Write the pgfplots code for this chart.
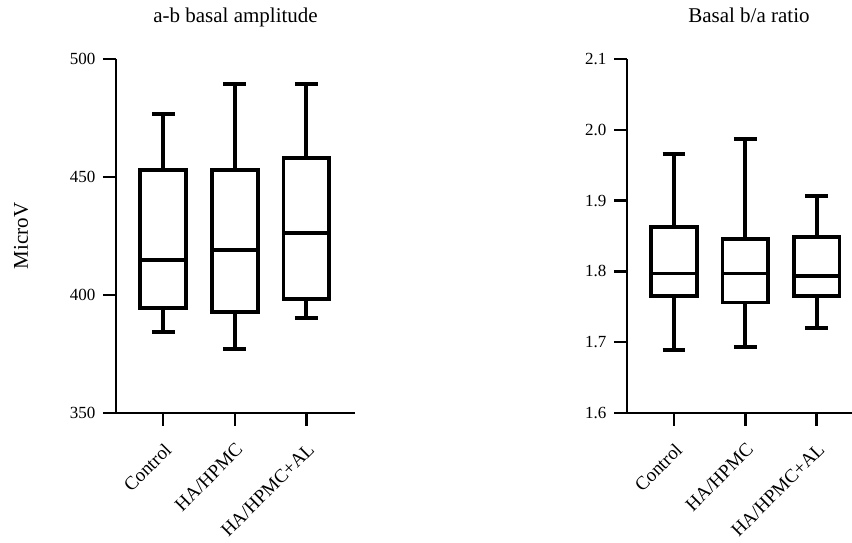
\documentclass[border=0pt]{standalone}
\usepackage{fontspec}
\setmainfont{Liberation Serif}
\usepackage{pgfplots}
\pgfplotsset{compat=1.18}
\begin{document}
\begin{tikzpicture}
\useasboundingbox (0pt,0pt) rectangle (852pt,543pt);
\pgfplotsset{
  mybox/.style={
    scale only axis,
    height=354pt,
    axis lines*=left,
    axis line style={line width=2.5pt, black},
    tick align=outside,
    major tick length=13pt,
    tick style={line width=2.5pt, black},
    xtick={0,1,2},
    xticklabels={Control,HA/HPMC,HA/HPMC+AL},
    xticklabel style={rotate=45, anchor=north east, font=\fontsize{19}{19}\selectfont, inner sep=2pt},
    xticklabel shift=13pt,
    yticklabel style={font=\fontsize{17}{17}\selectfont},
    yticklabel shift=4pt,
    /pgf/number format/assume math mode=true,
    title style={anchor=base, yshift=30pt, font=\fontsize{21}{21}\selectfont},
    clip=false,
    unbounded coords=jump,
  },
  bx/.style={draw=black, line width=3.8pt, solid, line join=miter, mark=none},
}
\begin{axis}[mybox,
  at={(116pt,130pt)}, anchor=south west,
  width=239pt,
  xmin=-0.66, xmax=2.68,
  ymin=350, ymax=500,
  ytick={350,400,450,500},
  title={a-b basal amplitude},
  title style={at={(0.5,1)}},
  ylabel={MicroV},
  ylabel style={at={(axis description cs:-0.3975,0.5)}, anchor=center, font=\fontsize{21}{21}\selectfont},
]
% Control: 384.2, 394.4, 414.8, 453.0, 476.7
\addplot[bx] coordinates {(-0.32,394.4) (0.32,394.4) (0.32,453.0) (-0.32,453.0)} -- cycle;
\addplot[bx] coordinates {(-0.32,414.8) (0.32,414.8) (0,nan)
  (0,453.0) (0,476.7) (0,nan) (-0.16,476.7) (0.16,476.7) (0,nan)
  (0,394.4) (0,384.2) (0,nan) (-0.16,384.2) (0.16,384.2)};
% HA/HPMC: 377.1, 392.9, 419.0, 453.0, 489.4
\addplot[bx] coordinates {(0.68,392.9) (1.32,392.9) (1.32,453.0) (0.68,453.0)} -- cycle;
\addplot[bx] coordinates {(0.68,419.0) (1.32,419.0) (1,nan)
  (1,453.0) (1,489.4) (1,nan) (0.84,489.4) (1.16,489.4) (1,nan)
  (1,392.9) (1,377.1) (1,nan) (0.84,377.1) (1.16,377.1)};
% HA/HPMC+AL: 390.4, 398.2, 426.4, 457.9, 489.4
\addplot[bx] coordinates {(1.68,398.2) (2.32,398.2) (2.32,457.9) (1.68,457.9)} -- cycle;
\addplot[bx] coordinates {(1.68,426.4) (2.32,426.4) (2,nan)
  (2,457.9) (2,489.4) (2,nan) (1.84,489.4) (2.16,489.4) (2,nan)
  (2,398.2) (2,390.4) (2,nan) (1.84,390.4) (2.16,390.4)};
\end{axis}
\begin{axis}[mybox,
  at={(627pt,130pt)}, anchor=south west,
  width=225pt,
  xmin=-0.66, xmax=2.496,
  ymin=1.6, ymax=2.1,
  ytick={1.6,1.7,1.8,1.9,2.0,2.1},
  yticklabel style={/pgf/number format/fixed, /pgf/number format/fixed zerofill, /pgf/number format/precision=1},
  title={Basal b/a ratio},
  title style={at={(0.542,1)}},
]
% Control: 1.689, 1.765, 1.797, 1.863, 1.966
\addplot[bx] coordinates {(-0.32,1.765) (0.32,1.765) (0.32,1.863) (-0.32,1.863)} -- cycle;
\addplot[bx] coordinates {(-0.32,1.797) (0.32,1.797) (0,nan)
  (0,1.863) (0,1.966) (0,nan) (-0.16,1.966) (0.16,1.966) (0,nan)
  (0,1.765) (0,1.689) (0,nan) (-0.16,1.689) (0.16,1.689)};
% HA/HPMC: 1.693, 1.756, 1.797, 1.846, 1.987
\addplot[bx] coordinates {(0.68,1.756) (1.32,1.756) (1.32,1.846) (0.68,1.846)} -- cycle;
\addplot[bx] coordinates {(0.68,1.797) (1.32,1.797) (1,nan)
  (1,1.846) (1,1.987) (1,nan) (0.84,1.987) (1.16,1.987) (1,nan)
  (1,1.756) (1,1.693) (1,nan) (0.84,1.693) (1.16,1.693)};
% HA/HPMC+AL: 1.720, 1.765, 1.794, 1.849, 1.906
\addplot[bx] coordinates {(1.68,1.765) (2.32,1.765) (2.32,1.849) (1.68,1.849)} -- cycle;
\addplot[bx] coordinates {(1.68,1.794) (2.32,1.794) (2,nan)
  (2,1.849) (2,1.906) (2,nan) (1.84,1.906) (2.16,1.906) (2,nan)
  (2,1.765) (2,1.720) (2,nan) (1.84,1.720) (2.16,1.720)};
\end{axis}
\end{tikzpicture}
\end{document}
